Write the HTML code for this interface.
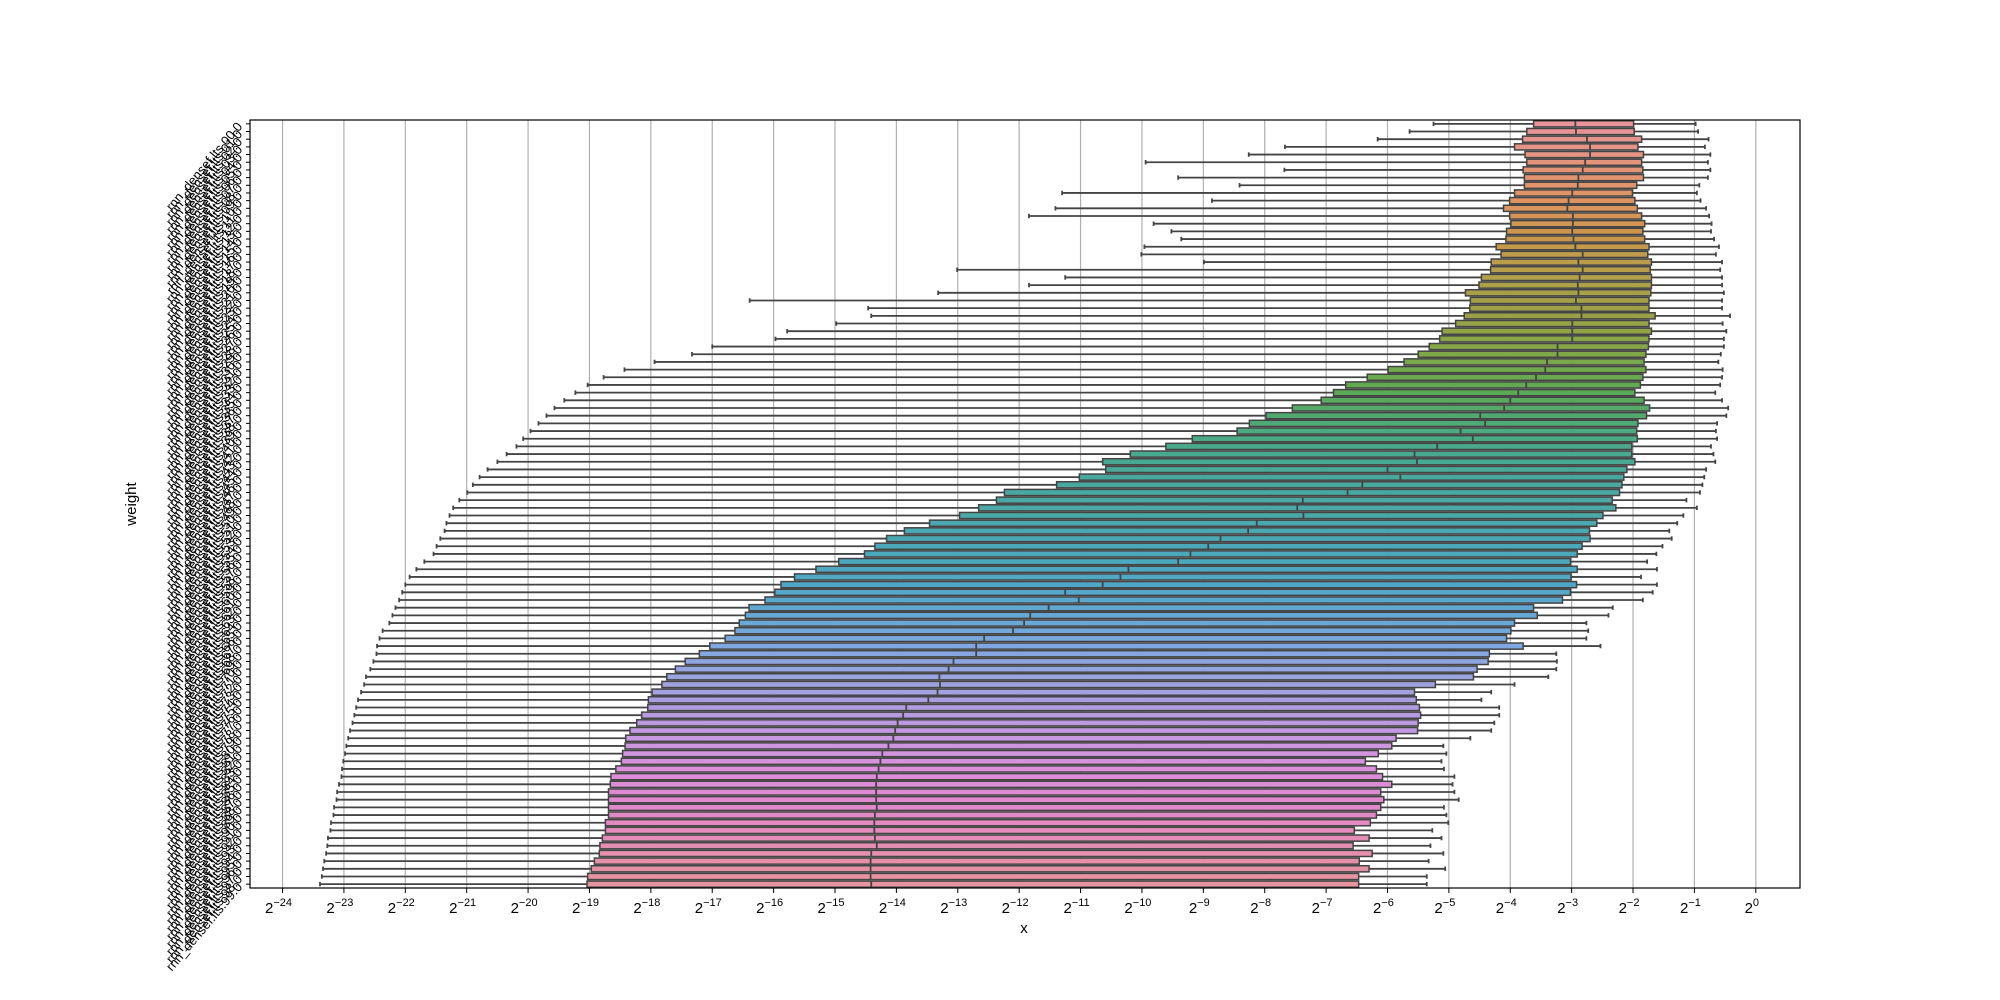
<!DOCTYPE html>
<html><head><meta charset="utf-8"><style>
html,body{margin:0;padding:0;background:#fff;}
svg{display:block;font-family:"Liberation Sans",sans-serif;}
</style></head>
<body>
<svg id="chart" width="2000" height="1000" viewBox="0 0 2000 1000" xmlns="http://www.w3.org/2000/svg">
<rect x="0" y="0" width="2000" height="1000" fill="#fff"/>
<g id="grid"></g><g id="boxes"></g><g id="xticks"></g><g id="yticks"></g>
<rect x="250" y="120" width="1550" height="768" fill="none" stroke="#000" stroke-width="1.2"/>
<text x="1024" y="933" font-size="15" text-anchor="middle">x</text>
<text x="136" y="504" font-size="15" text-anchor="middle" transform="rotate(-90 136 504)">weight</text>
</svg>
<script>
// data: log2 exponents per layer (row 0 at top)
const lowWhisker = [-5.25,-5.64,-6.16,-7.67,-8.26,-9.94,-7.68,-9.41,-8.41,-11.30,-8.86,-11.41,-11.84,-9.81,-9.52,-9.36,-9.96,-10.01,-8.99,-13.01,-11.25,-11.84,-13.32,-16.39,-14.46,-14.41,-14.98,-15.78,-15.97,-17.00,
-17.33,-17.94,-18.43,-18.77,-19.03,-19.23,-19.41,-19.57,-19.70,-19.83,-19.96,-20.08,-20.19,-20.35,-20.50,-20.66,-20.79,-20.90,-20.99,-21.12,-21.22,-21.28,-21.33,-21.36,-21.43,-21.49,-21.54,-21.69,-21.82,-21.93,-22.00,-22.05,-22.10,-22.16,-22.21,-22.26,-22.37,-22.42,-22.46,-22.47,-22.52,-22.57,-22.64,-22.67,-22.72,-22.77,-22.80,-22.83,-22.86,-22.90,-22.93,-22.96,-22.98,-23.01,-23.03,-23.04,-23.08,-23.11,-23.12,-23.16,-23.17,-23.21,-23.22,-23.26,-23.27,-23.29,-23.32,-23.34,-23.36,-23.39];
const q1 = [-3.62,-3.73,-3.80,-3.93,-3.76,-3.73,-3.79,-3.77,-3.77,-3.93,-4.01,-4.11,-4.01,-3.99,-4.06,-4.07,-4.23,-4.15,-4.31,-4.32,-4.47,-4.51,-4.73,-4.65,-4.66,-4.75,-4.89,-5.11,-5.15,-5.32,-5.50,-5.73,-5.99,-6.33,-6.68,-6.88,-7.08,-7.55,-7.98,-8.25,-8.45,-9.18,-9.61,-10.19,-10.64,-10.59,-11.02,-11.39,-12.24,-12.37,-12.66,-12.97,-13.46,-13.87,-14.16,-14.35,-14.52,-14.94,-15.31,-15.66,-15.88,-15.98,-16.14,-16.40,-16.46,-16.56,-16.63,-16.79,-17.04,-17.21,-17.44,-17.60,-17.74,-17.82,-17.98,-18.04,-18.05,-18.15,-18.23,-18.34,-18.41,-18.42,-18.46,-18.48,-18.57,-18.65,-18.66,-18.69,-18.69,-18.69,-18.69,-18.74,-18.74,-18.79,-18.83,-18.84,-18.92,-18.97,-19.03,-19.04];
const median = [-2.94,-2.93,-2.75,-2.70,-2.70,-2.78,-2.82,-2.89,-2.90,-2.99,-3.05,-3.07,-2.98,-2.98,-2.99,-2.97,-2.94,-2.82,-2.89,-2.82,-2.87,-2.90,-2.89,-2.93,-2.84,-2.84,-2.99,-2.99,-2.99,-3.23,-3.23,-3.40,-3.43,-3.58,-3.74,-3.87,-4.00,-4.10,-4.49,-4.41,-4.81,-4.61,-5.19,-5.56,-5.52,-6.00,-5.79,-6.41,-6.65,-7.38,-7.47,-7.37,-8.13,-8.27,-8.72,-8.92,-9.21,-9.41,-10.22,-10.35,-10.64,-11.25,-11.03,-11.52,-11.82,-11.92,-12.10,-12.57,-12.70,-12.70,-13.07,-13.15,-13.30,-13.29,-13.33,-13.48,-13.84,-13.89,-13.98,-14.02,-14.05,-14.13,-14.23,-14.26,-14.29,-14.32,-14.33,-14.33,-14.33,-14.32,-14.35,-14.36,-14.36,-14.35,-14.32,-14.41,-14.42,-14.42,-14.42,-14.41];
const q3 = [-1.99,-1.98,-1.86,-1.92,-1.83,-1.86,-1.84,-1.83,-1.94,-2.01,-1.97,-1.93,-1.86,-1.81,-1.84,-1.81,-1.74,-1.76,-1.70,-1.72,-1.70,-1.70,-1.71,-1.74,-1.74,-1.64,-1.74,-1.70,-1.74,-1.75,-1.79,-1.82,-1.79,-1.84,-1.88,-1.97,-1.82,-1.73,-1.78,-1.92,-1.94,-1.93,-2.02,-2.02,-1.97,-2.10,-2.15,-2.18,-2.22,-2.34,-2.28,-2.49,-2.59,-2.71,-2.70,-2.83,-2.91,-3.02,-2.91,-3.01,-2.92,-3.02,-3.15,-3.62,-3.56,-3.93,-3.99,-4.06,-3.79,-4.34,-4.36,-4.54,-4.60,-5.22,-5.56,-5.53,-5.48,-5.46,-5.50,-5.51,-5.86,-5.93,-6.15,-6.36,-6.18,-6.08,-5.93,-6.11,-6.06,-6.11,-6.18,-6.28,-6.54,-6.30,-6.56,-6.25,-6.46,-6.30,-6.47,-6.47];
const highWhisker = [-0.98,-0.94,-0.77,-0.83,-0.74,-0.78,-0.74,-0.78,-0.92,-0.96,-0.90,-0.81,-0.76,-0.72,-0.73,-0.68,-0.60,-0.65,-0.55,-0.58,-0.55,-0.55,-0.52,-0.55,-0.55,-0.42,-0.54,-0.48,-0.52,-0.52,-0.57,-0.61,-0.54,-0.55,-0.58,-0.66,-0.55,-0.45,-0.48,-0.63,-0.65,-0.63,-0.73,-0.69,-0.66,-0.81,-0.84,-0.87,-0.91,-1.13,-0.96,-1.18,-1.28,-1.41,-1.37,-1.52,-1.62,-1.77,-1.61,-1.87,-1.61,-1.68,-1.84,-2.33,-2.40,-2.76,-2.73,-2.76,-2.53,-3.25,-3.24,-3.25,-3.38,-3.93,-4.31,-4.47,-4.18,-4.18,-4.26,-4.31,-4.65,-5.09,-5.04,-5.12,-5.08,-4.91,-4.94,-4.91,-4.84,-5.08,-5.04,-5.01,-5.27,-5.12,-5.30,-5.09,-5.33,-5.06,-5.36,-5.36];
const xTickExps = [-24,-23,-22,-21,-20,-19,-18,-17,-16,-15,-14,-13,-12,-11,-10,-9,-8,-7,-6,-5,-4,-3,-2,-1,0];

const NS = "http://www.w3.org/2000/svg";
const L = 250, R = 1800, T = 120, B = 888;
const XMIN = -24.53, XMAX = 0.72;
const n = q1.length;
function xs(v){ return L + (v - XMIN) / (XMAX - XMIN) * (R - L); }
const band = (B - T) / n;
function ys(i){ return T + band * (i + 0.5); }
function mk(tag, attrs, parent){ const e = document.createElementNS(NS, tag); for (const k in attrs) e.setAttribute(k, attrs[k]); parent.appendChild(e); return e; }

const stops = [[0,[232,148,154]],[10,[223,148,96]],[15,[201,151,74]],[20,[178,160,74]],[25,[154,160,69]],[30,[128,168,72]],[35,[90,170,85]],[40,[74,170,128]],[45,[72,168,152]],[50,[74,168,168]],[55,[74,168,184]],[60,[80,168,200]],[65,[106,168,216]],[68,[128,168,224]],[72,[154,164,224]],[76,[176,156,224]],[80,[200,152,224]],[84,[220,144,220]],[88,[224,136,208]],[92,[228,140,188]],[96,[228,144,168]],[99,[232,148,160]]];
function color(i){
  for (let k = 0; k < stops.length - 1; k++){
    const a = stops[k], b = stops[k+1];
    if (i >= a[0] && i <= b[0]){ const t = (i - a[0]) / (b[0] - a[0]);
      const c = a[1].map((v, j) => Math.round(v + (b[1][j] - v) * t)); return `rgb(${c[0]},${c[1]},${c[2]})`; }
  }
  return "rgb(232,148,160)";
}

const grid = document.getElementById("grid");
const xt = document.getElementById("xticks");
xTickExps.forEach(e => {
  const x = xs(e);
  const g = mk("line", {x1:x, x2:x, y1:T, y2:B, stroke:"#b0b0b0", "stroke-width":1.2}, grid);
  
  
  const tk = mk("line", {x1:x, x2:x, y1:B, y2:B+5, stroke:"#000", "stroke-width":1}, xt);
  
  
  const t = mk("text", {x:x - 4, y:913, "font-size":15, "text-anchor":"middle"}, xt);
  
  
  t.appendChild(document.createTextNode("2"));
  const s = mk("tspan", {dy:-7, "font-size":11}, t);
  s.textContent = "\u2212" + Math.abs(e);
  if (e === 0) s.textContent = "0";
});

const boxes = document.getElementById("boxes");
const yt = document.getElementById("yticks");
const bh = band * 0.8;
for (let i = 0; i < n; i++){
  const cy = ys(i);
  const g = mk("g", {}, boxes);
  
  
  const st = {stroke:"#444", "stroke-width":1.8};
  mk("line", Object.assign({x1:xs(lowWhisker[i]), x2:xs(q1[i]), y1:cy, y2:cy}, st), g);
  mk("line", Object.assign({x1:xs(q3[i]), x2:xs(highWhisker[i]), y1:cy, y2:cy}, st), g);
  mk("line", Object.assign({x1:xs(lowWhisker[i]), x2:xs(lowWhisker[i]), y1:cy - 2.2, y2:cy + 2.2}, st), g);
  mk("line", Object.assign({x1:xs(highWhisker[i]), x2:xs(highWhisker[i]), y1:cy - 2.2, y2:cy + 2.2}, st), g);
  mk("rect", {x:xs(q1[i]), y:cy - bh/2, width:Math.max(0.5, xs(q3[i]) - xs(q1[i])), height:bh, fill:color(i), stroke:"#444", "stroke-width":1.5}, g);
  mk("line", Object.assign({x1:xs(median[i]), x2:xs(median[i]), y1:cy - bh/2, y2:cy + bh/2}, st), g);
  const tk = mk("line", {x1:L - 4, x2:L, y1:cy, y2:cy, stroke:"#000", "stroke-width":1}, yt);
  
  
  const lx = L - 7, ly = cy + 3;
  const lbl = mk("text", {x:lx, y:ly, "font-size":13, "text-anchor":"end", transform:`rotate(-50 ${lx} ${ly})`}, yt);
  
  
  lbl.textContent = "rnn_densef.lts." + (i < 10 ? "0" : "") + i + ".0";
}
</script>
</body></html>
